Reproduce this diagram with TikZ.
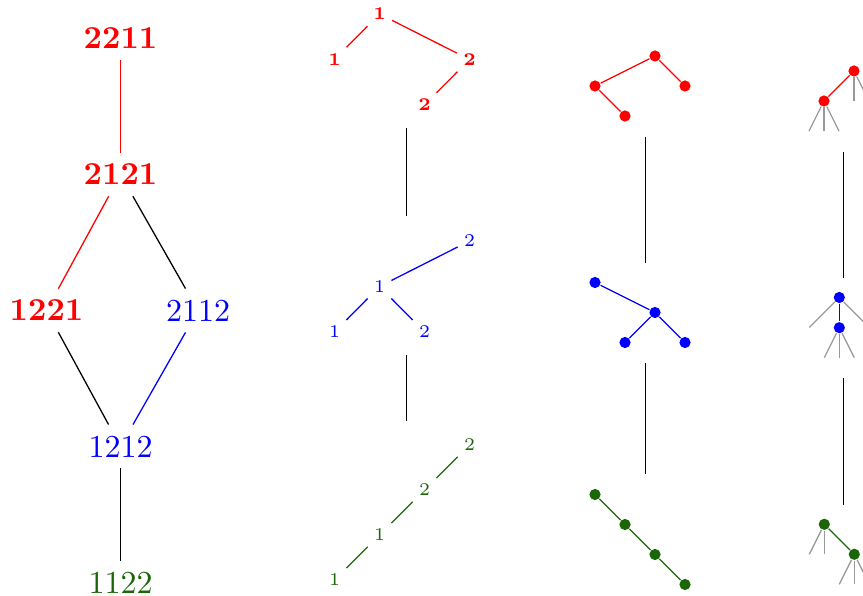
\documentclass[tikz,border=0pt]{standalone}
\usepackage{tikz}
\usetikzlibrary{positioning}
\definecolor{Moss}{HTML}{1B6609}
\definecolor{Stem}{HTML}{9A9A9A}
\tikzset{
  perm/.style={inner sep=3.33pt},
  lab/.style={font=\fontsize{5.6}{6}\selectfont,inner sep=1.8pt},
  dot/.style={circle,fill,inner sep=0pt,minimum size=3.5pt},
  stem/.style={Stem},
}

\begin{document}
\begin{tikzpicture}[x=0.3125pt,y=-0.3125pt]
  \clip (0,0) rectangle (863,596);
  % the poset of words
  \node[perm,red,font=\bfseries] (p2211) at (120.5,38.5) {2211};
  \node[perm,red,font=\bfseries] (p2121) at (120.5,174.5) {2121};
  \node[perm,red,font=\bfseries] (p1221) at (46.5,310.5) {1221};
  \node[perm,blue] (p2112) at (198,310.5) {2112};
  \node[perm,blue] (p1212) at (120.5,446.5) {1212};
  \node[perm,Moss] (p1122) at (120.5,582.5) {1122};
  \draw[red] (p2211) -- (p2121);
  \draw[red] (p2121) -- (p1221);
  \draw (p2121) -- (p2112);
  \draw (p1221) -- (p1212);
  \draw[blue] (p2112) -- (p1212);
  \draw (p1212) -- (p1122);

  % labelled trees
  \node[lab,red,font=\fontsize{5.6}{6}\selectfont\bfseries] (r1) at (379.5,14) {1};
  \node[lab,red,font=\fontsize{5.6}{6}\selectfont\bfseries] (r2) at (334.5,59.5) {1};
  \node[lab,red,font=\fontsize{5.6}{6}\selectfont\bfseries] (r3) at (469.5,59.5) {2};
  \node[lab,red,font=\fontsize{5.6}{6}\selectfont\bfseries] (r4) at (424.5,105) {2};
  \draw[red] (r1) -- (r2) (r1) -- (r3) (r3) -- (r4);
  \node[lab,blue] (b1) at (469.5,241) {2};
  \node[lab,blue] (b2) at (379.5,286.5) {1};
  \node[lab,blue] (b3) at (334.5,332) {1};
  \node[lab,blue] (b4) at (424.5,332) {2};
  \draw[blue] (b2) -- (b1) (b2) -- (b3) (b2) -- (b4);
  \node[lab,Moss] (g1) at (334.5,580) {1};
  \node[lab,Moss] (g2) at (379.5,535) {1};
  \node[lab,Moss] (g3) at (424.5,490) {2};
  \node[lab,Moss] (g4) at (469.5,445) {2};
  \draw[Moss] (g1) -- (g2) -- (g3) -- (g4);
  \coordinate (mA) at (406.5,128); \coordinate (mB) at (406.5,216);
  \coordinate (mC) at (406.5,355); \coordinate (mD) at (406.5,421);
  \draw (mA) -- (mB) (mC) -- (mD);

  % plane trees
  \node[dot,red] (s1) at (655,56) {};
  \node[dot,red] (s2) at (595,86) {};
  \node[dot,red] (s3) at (625,116) {};
  \node[dot,red] (s4) at (685,86) {};
  \draw[red] (s1) -- (s2) -- (s3) (s1) -- (s4);
  \node[dot,blue] (t1) at (595,282.5) {};
  \node[dot,blue] (t2) at (655,312.5) {};
  \node[dot,blue] (t3) at (625,342.5) {};
  \node[dot,blue] (t4) at (685,342.5) {};
  \draw[blue] (t1) -- (t2) -- (t3) (t2) -- (t4);
  \node[dot,Moss] (w1) at (595,494.5) {};
  \node[dot,Moss] (w2) at (625,524.5) {};
  \node[dot,Moss] (w3) at (655,554.5) {};
  \node[dot,Moss] (w4) at (685,584.5) {};
  \draw[Moss] (w1) -- (w2) -- (w3) -- (w4);
  \coordinate (nA) at (645.5,137); \coordinate (nB) at (645.5,263);
  \coordinate (nC) at (645.5,363); \coordinate (nD) at (645.5,474);
  \draw (nA) -- (nB) (nC) -- (nD);

  % ternary trees
  \node[dot,red] (q1) at (854,71) {};
  \node[dot,red] (q2) at (824,101) {};
  \draw[red] (q1) -- (q2);
  \foreach \dx in {-15,0,15} \draw[stem] (q2) -- ++(\dx,30);
  \foreach \dx in {0,15} \draw[stem] (q1) -- ++(\dx,30);
  \node[dot,blue] (u1) at (839.3,297.5) {};
  \node[dot,blue] (u2) at (839.3,327.7) {};
  \draw[blue] (u1) -- (u2);
  \foreach \dx in {-30,30} \draw[stem] (u1) -- ++(\dx,30);
  \foreach \dx in {-15,0,15} \draw[stem] (u2) -- ++(\dx,30);
  \node[dot,Moss] (v1) at (824.3,524.3) {};
  \node[dot,Moss] (v2) at (854.3,554.3) {};
  \draw[Moss] (v1) -- (v2);
  \foreach \dx in {-15,0} \draw[stem] (v1) -- ++(\dx,30);
  \foreach \dx in {-15,0,15} \draw[stem] (v2) -- ++(\dx,30);
  \coordinate (kA) at (843.3,152); \coordinate (kB) at (843.3,278);
  \coordinate (kC) at (843.3,378); \coordinate (kD) at (843.3,505);
  \draw (kA) -- (kB) (kC) -- (kD);
\end{tikzpicture}
\end{document}
